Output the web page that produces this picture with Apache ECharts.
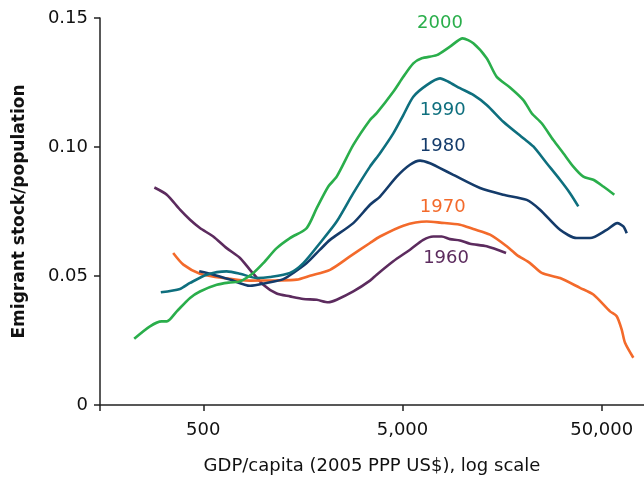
<!DOCTYPE html>
<html>
<head>
<meta charset="utf-8">
<script src="https://cdn.jsdelivr.net/npm/echarts@6/dist/echarts.min.js"></script>
<style>
html,body{margin:0;padding:0;background:#fff;}
#chart{width:644px;height:481px;}
</style>
</head>
<body>
<div id="chart"></div>
<script>
// GDP per capita (2005 PPP US$) and emigrant stock / population
const gdp2000 = [225, 270, 309, 328, 368, 429, 481, 584, 681, 764, 891, 1000, 1168, 1362, 1652, 1855, 2121, 2337, 2831, 3434, 3710, 4495, 5047, 5665, 6242, 7424, 8657, 10026, 11335, 13231, 14856, 17322, 20210, 22260, 24980, 28580, 32080, 36010, 40430, 45380, 50930, 57830];
const val2000 = [0.0257, 0.0305, 0.0324, 0.0324, 0.0363, 0.0415, 0.0440, 0.0466, 0.0475, 0.0479, 0.0512, 0.0550, 0.0608, 0.0647, 0.0686, 0.0763, 0.0847, 0.0885, 0.1008, 0.1105, 0.1131, 0.1214, 0.1272, 0.1324, 0.1344, 0.1356, 0.1389, 0.1421, 0.1402, 0.1344, 0.1272, 0.1231, 0.1182, 0.1131, 0.1092, 0.1027, 0.0976, 0.0924, 0.0885, 0.0873, 0.0847, 0.0815];

const gdp1990 = [306, 382, 429, 520, 655, 764, 927, 1081, 1362, 1589, 1927, 2337, 2831, 3434, 3855, 4495, 5047, 5665, 6614, 7713, 8490, 9719, 11335, 13231, 16030, 20210, 22680, 26480, 30880, 34660, 38150];
const val1990 = [0.0437, 0.0450, 0.0473, 0.0505, 0.0518, 0.0509, 0.0492, 0.0496, 0.0512, 0.0550, 0.0628, 0.0711, 0.0821, 0.0924, 0.0976, 0.1053, 0.1124, 0.1195, 0.1240, 0.1266, 0.1253, 0.1228, 0.1202, 0.1163, 0.1098, 0.1034, 0.1002, 0.0937, 0.0873, 0.0821, 0.0770];

const gdp1980 = [477, 561, 681, 858, 1040, 1261, 1415, 1652, 1927, 2163, 2831, 3434, 3855, 4677, 5453, 6121, 6871, 7713, 8995, 12250, 16030, 21010, 24500, 30880, 37450, 43680, 52970, 59870, 64180, 66750];
const val1980 = [0.0518, 0.0505, 0.0486, 0.0462, 0.0473, 0.0488, 0.0512, 0.0550, 0.0602, 0.0640, 0.0705, 0.0776, 0.0808, 0.0885, 0.0931, 0.0947, 0.0937, 0.0918, 0.0892, 0.0841, 0.0815, 0.0795, 0.0757, 0.0679, 0.0647, 0.0647, 0.0679, 0.0705, 0.0692, 0.0666];

const gdp1970 = [353, 397, 481, 630, 858, 1168, 1472, 1716, 2163, 2725, 3434, 3855, 5047, 6614, 7713, 9719, 11335, 13750, 16680, 18720, 21830, 24980, 30880, 38900, 45380, 55040, 59470, 63000, 65460, 72070];
const val1970 = [0.0589, 0.0544, 0.0509, 0.0492, 0.0482, 0.0483, 0.0486, 0.0501, 0.0524, 0.0576, 0.0628, 0.0653, 0.0695, 0.0711, 0.0707, 0.0699, 0.0682, 0.0660, 0.0615, 0.0582, 0.0550, 0.0512, 0.0492, 0.0454, 0.0428, 0.0363, 0.0344, 0.0292, 0.0241, 0.0183];

const gdp1960 = [284, 328, 382, 429, 481, 561, 655, 764, 858, 1000, 1168, 1362, 1589, 1855, 2121, 2337, 2831, 3434, 3710, 4495, 5453, 6357, 7139, 7867, 8657, 9719, 10910, 13231, 16550];
const val1960 = [0.0843, 0.0815, 0.0757, 0.0718, 0.0686, 0.0653, 0.0608, 0.0570, 0.0524, 0.0466, 0.0432, 0.0421, 0.0411, 0.0408, 0.0398, 0.0408, 0.0440, 0.0482, 0.0505, 0.0557, 0.0602, 0.0640, 0.0653, 0.0653, 0.0643, 0.0638, 0.0625, 0.0615, 0.0589];

const years = ['2000', '1990', '1980', '1970', '1960'];
// where each year label sits, in data units (gdp, value)
const labelGdp = [7710, 7960, 7960, 7960, 8270];
const labelVal = [0.1479, 0.1144, 0.1002, 0.0767, 0.0570];

const xTickValues = [500, 5000, 50000];
const yTickValues = [0, 0.05, 0.10, 0.15];
const xMin = 151.5, xMax = 81520;

const xTitle = 'GDP/capita (2005 PPP US$), log scale';
const yTitle = 'Emigrant stock/population';

const colors = ['#2aae4b', '#0e6f7e', '#143b6a', '#f36a2b', '#5c2b5e'];
const gdps = [gdp2000, gdp1990, gdp1980, gdp1970, gdp1960];
const vals = [val2000, val1990, val1980, val1970, val1960];

const FONT = 'DejaVu Sans';
const AXIS_COLOR = '#222';

const series = years.map((yr, i) => ({
  name: yr,
  type: 'line',
  xAxisIndex: 0,
  data: gdps[i].map((g, j) => [g, vals[i][j]]),
  showSymbol: false,
  symbol: 'none',
  smooth: 0.25,
  lineStyle: { color: colors[i], width: 2.6 },
  itemStyle: { color: colors[i] },
  z: 10 - i,
  markPoint: {
    symbol: 'circle',
    symbolSize: 0,
    silent: true,
    data: [{
      coord: [labelGdp[i], labelVal[i]],
      label: {
        show: true, position: 'inside', formatter: yr,
        color: colors[i], fontFamily: FONT, fontSize: 18
      }
    }]
  }
}));

const chart = echarts.init(document.getElementById('chart'), null, { renderer: 'canvas' });
chart.setOption({
  animation: false,
  backgroundColor: '#fff',
  grid: { left: 100, right: 0, top: 18, bottom: 76, containLabel: false },
  xAxis: [
    {
      type: 'log',
      logBase: 10,
      min: xMin,
      max: xMax,
      position: 'bottom',
      axisLine: { show: true, lineStyle: { color: AXIS_COLOR, width: 1.5 } },
      axisTick: { show: false },
      axisLabel: { show: false },
      splitLine: { show: false }
    },
    {
      // overlay axis in log10 units used only to place the 500 / 5,000 / 50,000 ticks
      type: 'value',
      min: Math.log10(xMin),
      max: Math.log10(xMax),
      position: 'bottom',
      offset: 0,
      axisLine: { show: false },
      axisTick: {
        show: true, length: 6, inside: false,
        customValues: [Math.log10(xMin)].concat(xTickValues.map(v => Math.log10(v))),
        lineStyle: { color: AXIS_COLOR, width: 1.5 }
      },
      axisLabel: {
        show: true,
        customValues: xTickValues.map(v => Math.log10(v)),
        formatter: v => Math.round(Math.pow(10, v)).toLocaleString('en-US'),
        color: '#111', fontFamily: FONT, fontSize: 18, margin: 16
      },
      splitLine: { show: false },
      name: xTitle,
      nameLocation: 'middle',
      nameGap: 52,
      nameTextStyle: { color: '#111', fontFamily: FONT, fontSize: 18 }
    }
  ],
  yAxis: {
    type: 'value',
    min: 0,
    max: 0.15,
    interval: 0.05,
    axisLine: { show: true, lineStyle: { color: AXIS_COLOR, width: 1.5 } },
    axisTick: { show: true, length: 6, lineStyle: { color: AXIS_COLOR, width: 1.5 } },
    axisLabel: {
      customValues: yTickValues,
      formatter: v => (v === 0 ? '0' : v.toFixed(2)),
      color: '#111', fontFamily: FONT, fontSize: 18, margin: 12
    },
    splitLine: { show: false },
    name: yTitle,
    nameLocation: 'middle',
    nameGap: 72,
    nameTextStyle: { color: '#111', fontFamily: FONT, fontSize: 17, fontWeight: 'bold' }
  },
  series: series
});
</script>
</body>
</html>
